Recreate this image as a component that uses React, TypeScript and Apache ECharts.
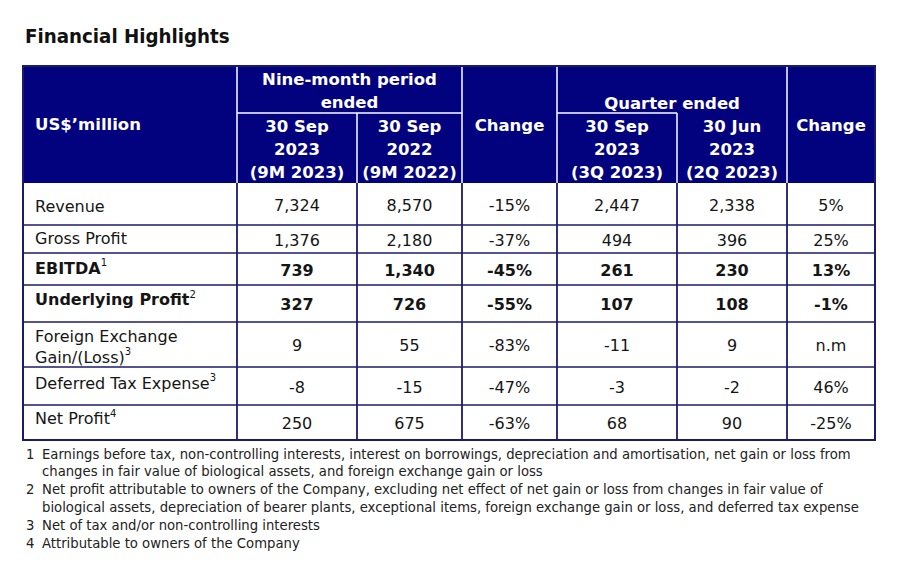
import React, { useEffect, useRef } from "react";
import * as echarts from "echarts";

// ---------- data ----------
const title = "Financial Highlights";
const unitLabel = "US$\u2019million";
const groupHeaders = ["Nine-month period\nended", "Quarter ended"];
const periodHeaders = [
  "30 Sep\n2023\n(9M 2023)",
  "30 Sep\n2022\n(9M 2022)",
  "Change",
  "30 Sep\n2023\n(3Q 2023)",
  "30 Jun\n2023\n(2Q 2023)",
  "Change",
];
const rowLabels = [
  "Revenue",
  "Gross Profit",
  "EBITDA",
  "Underlying Profit",
  "Foreign Exchange\nGain/(Loss)",
  "Deferred Tax Expense",
  "Net Profit",
];
const rowNoteMarks = ["", "", "1", "2", "3", "3", "4"];
const boldRows = [false, false, true, true, false, false, false];
const nineMonth2023 = [7324, 1376, 739, 327, 9, -8, 250];
const nineMonth2022 = [8570, 2180, 1340, 726, 55, -15, 675];
const nineMonthChange = [-15, -37, -45, -55, -83, -47, -63];
const quarter3Q2023 = [2447, 494, 261, 107, -11, -3, 68];
const quarter2Q2023 = [2338, 396, 230, 108, 9, -2, 90];
const quarterChange: (number | null)[] = [5, 25, 13, -1, null, 46, -25];
const footnoteNumbers = ["1", "2", "3", "4"];
const footnoteLines = [
  [
    "Earnings before tax, non-controlling interests, interest on borrowings, depreciation and amortisation, net gain or loss from",
    "changes in fair value of biological assets, and foreign exchange gain or loss",
  ],
  [
    "Net profit attributable to owners of the Company, excluding net effect of net gain or loss from changes in fair value of",
    "biological assets, depreciation of bearer plants, exceptional items, foreign exchange gain or loss, and deferred tax expense",
  ],
  ["Net of tax and/or non-controlling interests"],
  ["Attributable to owners of the Company"],
];

// ---------- layout ----------
const FONT = "'DejaVu Sans', Verdana, sans-serif";
const FONT_NARROW = "'DejaVu Sans Condensed', 'DejaVu Sans', sans-serif";
const NAVY = "#02027f";
const LINE = "#1b1b6b";
const TEXT = "#151515";
const COL_X = [23, 237, 357, 462, 557, 677, 787, 875];
const HEAD_TOP = 66;
const HEAD_SPLIT = 113;
const HEAD_BOTTOM = 183;
const ROW_Y = [183, 225, 253, 285, 322, 367, 405, 440];
const LABEL_DY = [1, -2, -2, -5, 1, -4, -5];

const fmtNum = (v: number) => v.toLocaleString("en-US");
const fmtPct = (v: number | null) => (v === null ? "n.m" : `${v}%`);

function txt(x: number, y: number, text: string, opts: any = {}) {
  const align = opts.align || "center";
  return {
    type: "text",
    x,
    y,
    silent: true,
    style: {
      text,
      fontFamily: opts.fontFamily || FONT,
      fontSize: opts.fontSize || 16,
      fontWeight: opts.bold ? "bold" : "normal",
      fill: opts.fill || TEXT,
      align,
      textAlign: align,
      verticalAlign: "middle",
      textVerticalAlign: "middle",
      lineHeight: opts.lineHeight,
      rich: opts.rich,
    },
  };
}

function line(x1: number, y1: number, x2: number, y2: number, stroke: string, w: number) {
  return {
    type: "line",
    silent: true,
    shape: { x1, y1, x2, y2 },
    style: { stroke, lineWidth: w },
  };
}

function buildElements() {
  const els: any[] = [];
  const L = COL_X[0];
  const R = COL_X[COL_X.length - 1];
  // title
  els.push(
    txt(25, 36, title, { align: "left", bold: true, fontSize: 20.3, fill: "#111", fontFamily: FONT_NARROW })
  );
  // header background
  els.push({
    type: "rect",
    silent: true,
    shape: { x: L, y: HEAD_TOP, width: R - L, height: HEAD_BOTTOM - HEAD_TOP },
    style: { fill: NAVY },
  });
  // header white rules
  const W = "#ffffff";
  [1, 3, 4, 6].forEach((c) => els.push(line(COL_X[c], HEAD_TOP, COL_X[c], HEAD_BOTTOM, W, 1.5)));
  els.push(line(COL_X[1], HEAD_SPLIT, COL_X[3], HEAD_SPLIT, W, 1.5));
  els.push(line(COL_X[4], HEAD_SPLIT, COL_X[5], HEAD_SPLIT, W, 1.5));
  els.push(line(COL_X[2], HEAD_SPLIT, COL_X[2], HEAD_BOTTOM, W, 1.5));
  els.push(line(COL_X[5], HEAD_SPLIT, COL_X[5], HEAD_BOTTOM, W, 1.5));

  // header texts
  const HS = 16.5;
  els.push(txt(35, 124, unitLabel, { align: "left", bold: true, fill: W, fontSize: HS }));
  els.push(txt((COL_X[1] + COL_X[3]) / 2, 91, groupHeaders[0], { bold: true, fill: W, lineHeight: 23, fontSize: HS }));
  els.push(txt((COL_X[4] + COL_X[6]) / 2, 103, groupHeaders[1], { bold: true, fill: W, fontSize: HS }));
  periodHeaders.forEach((h, i) => {
    const cx = (COL_X[i + 1] + COL_X[i + 2]) / 2;
    const multi = h.indexOf("\n") >= 0;
    els.push(txt(cx, multi ? 149.5 : 125, h, { bold: true, fill: W, lineHeight: 23, fontSize: HS }));
  });

  // body rules
  for (let r = 1; r < ROW_Y.length - 1; r++) {
    els.push(line(L, ROW_Y[r], R, ROW_Y[r], LINE, 1.5));
  }
  for (let c = 1; c < COL_X.length - 1; c++) {
    els.push(line(COL_X[c], HEAD_BOTTOM, COL_X[c], ROW_Y[ROW_Y.length - 1], LINE, 1.8));
  }
  els.push({
    type: "rect",
    silent: true,
    shape: { x: L, y: HEAD_TOP, width: R - L, height: ROW_Y[ROW_Y.length - 1] - HEAD_TOP },
    style: { fill: "none", stroke: LINE, lineWidth: 2 },
  });

  // body cells
  const columns: string[][] = [
    nineMonth2023.map(fmtNum),
    nineMonth2022.map(fmtNum),
    nineMonthChange.map(fmtPct),
    quarter3Q2023.map(fmtNum),
    quarter2Q2023.map(fmtNum),
    quarterChange.map(fmtPct),
  ];
  rowLabels.forEach((label, r) => {
    const cy = (ROW_Y[r] + ROW_Y[r + 1]) / 2 + 1;
    const bold = boldRows[r];
    const parts = label.split("\n");
    const rich = {
      m: { fontFamily: FONT, fontSize: 16, fontWeight: bold ? "bold" : "normal", fill: TEXT, lineHeight: 21 },
      s: { fontFamily: FONT, fontSize: 10, fontWeight: "normal", fill: TEXT, verticalAlign: "top" },
    };
    const richText = parts
      .map((p, i) => `{m|${p}}` + (i === parts.length - 1 && rowNoteMarks[r] ? `{s|${rowNoteMarks[r]}}` : ""))
      .join("\n");
    els.push(txt(35, cy + LABEL_DY[r], richText, { align: "left", rich, lineHeight: 21 }));
    columns.forEach((col, c) => {
      const cx = (COL_X[c + 1] + COL_X[c + 2]) / 2;
      els.push(txt(cx, cy, col[r], { bold }));
    });
  });

  // footnotes
  let fy = 453;
  const FS = 14.7;
  footnoteLines.forEach((lines, i) => {
    els.push(txt(26, fy, footnoteNumbers[i], { align: "left", fontSize: FS, fill: "#222", fontFamily: FONT_NARROW }));
    lines.forEach((ln) => {
      els.push(txt(42, fy, ln, { align: "left", fontSize: FS, fill: "#222", fontFamily: FONT_NARROW }));
      fy += 17.8;
    });
  });
  return els;
}

export default function App() {
  const ref = useRef<HTMLDivElement>(null);
  useEffect(() => {
    if (!ref.current) return;
    const chart = echarts.init(ref.current, null, { renderer: "svg" });
    chart.setOption({
      animation: false,
      backgroundColor: "#ffffff",
      graphic: { elements: buildElements() },
    });
    return () => chart.dispose();
  }, []);
  return (
    <div
      ref={ref}
      style={{ position: "fixed", left: 0, top: 0, width: 897, height: 579, background: "#fff" }}
    />
  );
}
